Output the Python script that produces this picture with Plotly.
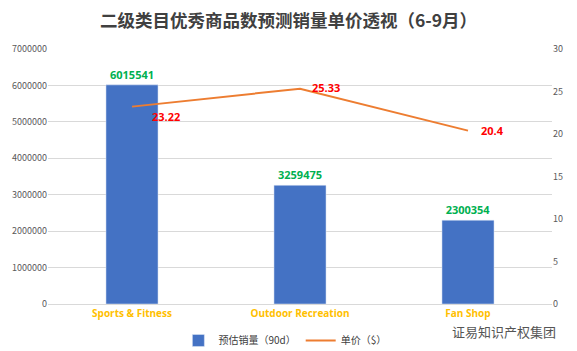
import plotly.graph_objects as go

categories = ["Sports & Fitness", "Outdoor Recreation", "Fan Shop"]
sales = [6015541, 3259475, 2300354]
price = [23.22, 25.33, 20.4]
left_ticks = [0, 1000000, 2000000, 3000000, 4000000, 5000000, 6000000, 7000000]
right_ticks = [0, 5, 10, 15, 20, 25, 30]

FONT = "Noto Sans CJK SC, Open Sans, sans-serif"
PLOT_L, PLOT_R, PLOT_T, PLOT_B = 48, 552, 49, 304

fig = go.Figure()
fig.add_trace(go.Bar(
    x=categories, y=sales, name="预估销量（90d）",
    marker_color="#4472C4", width=0.31,
    text=[f"<b>{v}</b>" for v in sales], textposition="outside",
    textfont=dict(color="#00B050", size=11, family="Open Sans, sans-serif"),
    cliponaxis=False,
))
fig.add_trace(go.Scatter(
    x=categories, y=price, name="单价（$）", yaxis="y2",
    mode="lines", line=dict(color="#ED7D31", width=2),
    cliponaxis=False,
))

label_shifts = [(18, -10), (10, 1), (11, 0)]
for c, p, (dx, dy) in zip(categories, price, label_shifts):
    fig.add_annotation(x=c, y=p, xref="x", yref="y2", text=f"<b>{p}</b>",
                       showarrow=False, xanchor="left", yanchor="middle",
                       xshift=dx, yshift=dy,
                       font=dict(color="#FF0000", size=11, family="Open Sans, sans-serif"))

fig.update_layout(
    width=577, height=351,
    margin=dict(l=PLOT_L, r=577 - PLOT_R, t=PLOT_T, b=351 - PLOT_B, autoexpand=False),
    paper_bgcolor="white", plot_bgcolor="white",
    font=dict(family=FONT, color="#595959", size=9),
    title=dict(text="<b>二级类目优秀商品数预测销量单价透视（6-9月）</b>",
               x=0.5, xanchor="center", y=0.94, yanchor="middle",
               font=dict(size=17.5, color="#404040", family=FONT)),
    showlegend=True,
    legend=dict(orientation="h", x=0.47, xanchor="center",
                yref="container", y=0.03, yanchor="middle",
                font=dict(size=10, color="#404040", family=FONT),
                itemwidth=30, tracegroupgap=0),
    xaxis=dict(showgrid=False, showline=True, linecolor="#D9D9D9",
               tickfont=dict(color="#FFC000", size=10, family="Open Sans, sans-serif", weight="bold"),
               ticks=""),
    yaxis=dict(range=[0, 7000000], tickvals=left_ticks, ticktext=[str(t) for t in left_ticks],
               showgrid=True, gridcolor="#D9D9D9", zeroline=False, ticks="",
               tickfont=dict(size=9, color="#595959")),
    yaxis2=dict(range=[0, 30], tickvals=right_ticks, overlaying="y", side="right",
                showgrid=False, zeroline=False, ticks="",
                tickfont=dict(size=9, color="#595959")),
)
fig.add_annotation(text="证易知识产权集团", xref="paper", yref="paper",
                   x=(558 - PLOT_L) / (PLOT_R - PLOT_L), y=(PLOT_B - 331) / (PLOT_B - PLOT_T),
                   xanchor="right", yanchor="middle", showarrow=False,
                   font=dict(size=13, color="#555555", family=FONT))
fig.write_html("out.html")
